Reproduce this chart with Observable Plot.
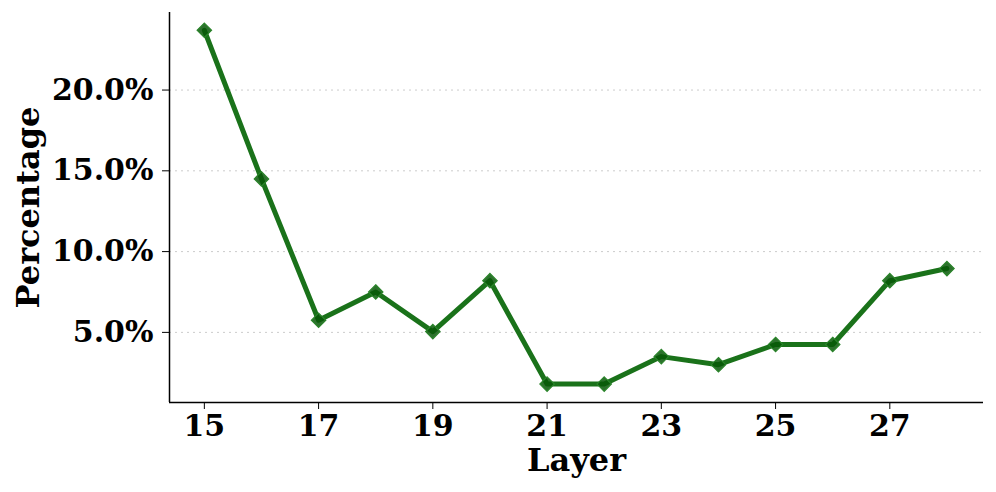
<!DOCTYPE html>
<html><head><meta charset="utf-8">
<script src="https://cdn.jsdelivr.net/npm/d3@7"></script>
<script src="https://cdn.jsdelivr.net/npm/@observablehq/plot@0.6"></script>
<style>body{margin:0;background:#fff}</style>
</head><body><div id="chart"></div>
<script>
const layers = [15,16,17,18,19,20,21,22,23,24,25,26,27,28];
const percentages = [23.7,14.5,5.75,7.5,5.05,8.2,1.8,1.8,3.5,3.0,4.25,4.25,8.2,8.95];
const xTicks = [15,17,19,21,23,25,27];
const yTicks = [5,10,15,20];
const xDomain = [14.39, 28.64];
const yDomain = [0.66, 24.8];
const xLabel = ["Layer"];
const yLabel = ["Percentage"];

const data = layers.map((l,i)=>({layer:l, pct:percentages[i]}));
const font = "DejaVu Serif";
const green = "#1a721a";

const chart = Plot.plot({
  width: 996, height: 492,
  marginLeft: 169, marginRight: 13, marginTop: 12, marginBottom: 90,
  style: {fontFamily: font, fontWeight: "bold", fontSize: "30px", color: "#000", background: "#fff"},
  x: {domain: xDomain},
  y: {domain: yDomain},
  marks: [
    Plot.gridY(yTicks, {stroke: "#ccc", strokeOpacity: 1, strokeDasharray: "2,4", strokeWidth: 1}),
    Plot.axisX(xTicks, {tickSize: 7, tickPadding: 5, label: null, tickFormat: d=>String(d), fontSize: 30, fontWeight: "bold"}),
    Plot.axisY(yTicks, {tickSize: 7, tickPadding: 9, label: null, tickFormat: d=>d.toFixed(1)+"%", fontSize: 30, fontWeight: "bold"}),
    Plot.ruleX([xDomain[0]], {stroke: "#000", strokeWidth: 1.5}),
    Plot.ruleY([yDomain[0]], {stroke: "#000", strokeWidth: 1.5}),
    Plot.line(data, {x: "layer", y: "pct", stroke: green, strokeWidth: 5}),
    Plot.dot(data, {x: "layer", y: "pct", symbol: "diamond2", r: 6.5, fill: "#085808", fillOpacity: 0.85, stroke: "#2a842a", strokeWidth: 1.2}),
    Plot.text(xLabel, {text: d=>d, frameAnchor: "bottom", dy: 58, lineAnchor: "middle", textAnchor: "middle", fontSize: 32, fontWeight: "bold", fill: "#000"}),
    Plot.text(yLabel, {text: d=>d, frameAnchor: "left", dx: -141, rotate: -90, lineAnchor: "middle", textAnchor: "middle", fontSize: 32, fontWeight: "bold", fill: "#000"})
  ]
});
document.getElementById("chart").appendChild(chart);
</script>
</body></html>
